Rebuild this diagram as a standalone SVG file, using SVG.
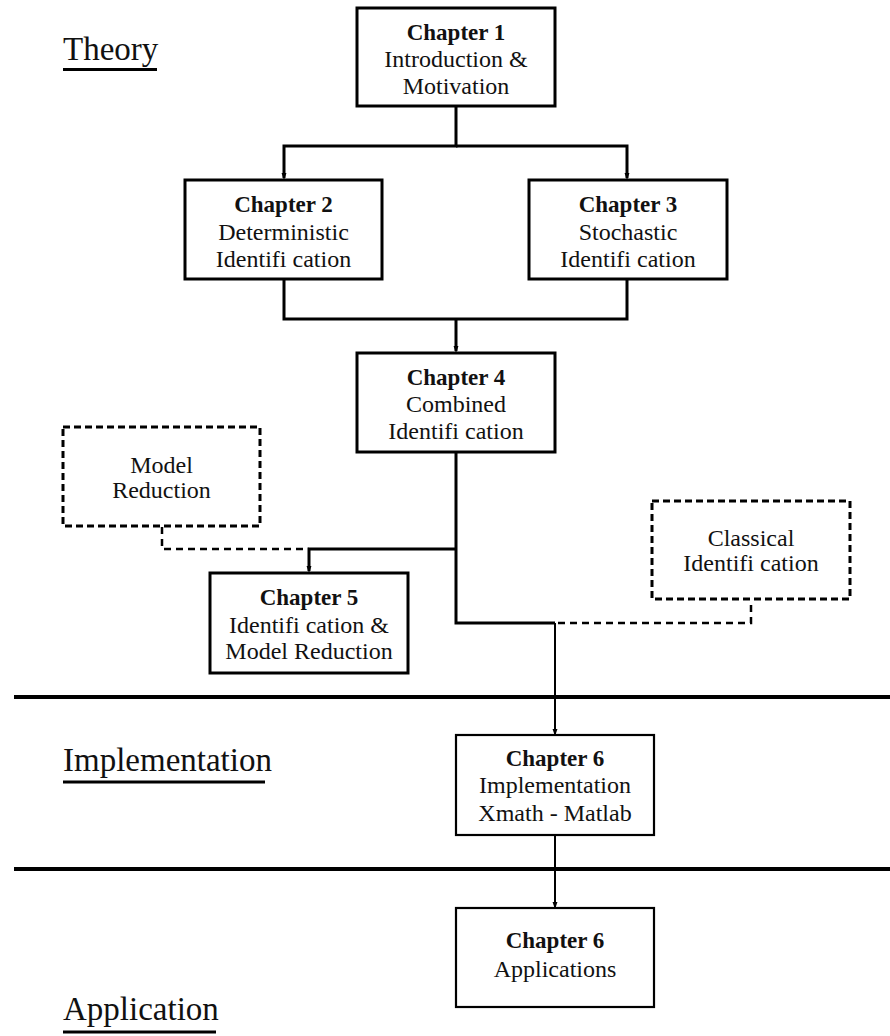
<svg xmlns="http://www.w3.org/2000/svg" width="890" height="1036" viewBox="0 0 890 1036">
  <style>
    text { font-family: "Liberation Serif", "Times New Roman", serif; fill: #111; }
    .title { font-weight: bold; font-size: 23px; text-anchor: middle; }
    .body { font-size: 24px; text-anchor: middle; }
    .section { font-size: 33px; }
    .box { fill: #fff; stroke: #000; stroke-width: 3; }
    .box-thin { fill: #fff; stroke: #000; stroke-width: 2.2; }
    .box-dash { fill: #fff; stroke: #000; stroke-width: 3; stroke-dasharray: 7 4; }
    .wire { fill: none; stroke: #000; stroke-width: 3; }
    .wire-thin { fill: none; stroke: #000; stroke-width: 2; }
    .wire-dash { fill: none; stroke: #000; stroke-width: 2.5; stroke-dasharray: 7 5; }
    .rule { stroke: #000; stroke-width: 4; }
  </style>
  <defs>
    <marker id="arrow" markerWidth="7" markerHeight="10" refX="7" refY="3.5" orient="auto" markerUnits="userSpaceOnUse" viewBox="0 0 10 7">
      <path d="M0,0 L10,3.5 L0,7 Z" fill="#000"/>
    </marker>
  </defs>

  <!-- section labels and dividers -->
  <g id="sections">
    <text class="section" x="63" y="60">Theory</text>
    <line x1="63" y1="69.5" x2="157" y2="69.5" stroke="#000" stroke-width="3"/>
    <text class="section" x="63" y="771">Implementation</text>
    <line x1="63" y1="782" x2="265" y2="782" stroke="#000" stroke-width="3"/>
    <text class="section" x="63" y="1020">Application</text>
    <line x1="63" y1="1032" x2="216" y2="1032" stroke="#000" stroke-width="3"/>
    <line class="rule" x1="14" y1="697" x2="890" y2="697"/>
    <line class="rule" x1="14" y1="869" x2="890" y2="869"/>
  </g>

  <!-- connectors -->
  <g id="connectors">
    <path class="wire" d="M456,106 V146 H284 V178" marker-end="url(#arrow)"/>
    <path class="wire" d="M456,146 H627 V178" marker-end="url(#arrow)"/>
    <path class="wire" d="M284,280 V319 H627 V280"/>
    <path class="wire" d="M456,319 V351" marker-end="url(#arrow)"/>
    <path class="wire" d="M456,452 V623 H555"/>
    <path class="wire" d="M456,549 H309 V571" marker-end="url(#arrow)"/>
    <path class="wire-dash" d="M162,527 V549 H309"/>
    <path class="wire-dash" d="M558,623 H751 V600"/>
    <path class="wire-thin" d="M555,623 V734" marker-end="url(#arrow)"/>
    <path class="wire-thin" d="M555,835 V907" marker-end="url(#arrow)"/>
  </g>

  <g id="ch1">
    <rect class="box" x="357" y="8" width="198" height="98"/>
    <text class="title" x="456" y="40">Chapter 1</text>
    <text class="body" x="456" y="67">Introduction &amp;</text>
    <text class="body" x="456" y="94">Motivation</text>
  </g>

  <g id="ch2">
    <rect class="box" x="185" y="180" width="197" height="99"/>
    <text class="title" x="283.5" y="212">Chapter 2</text>
    <text class="body" x="283.5" y="240">Deterministic</text>
    <text class="body" x="283.5" y="267">Identifi cation</text>
  </g>

  <g id="ch3">
    <rect class="box" x="529" y="180" width="198" height="99"/>
    <text class="title" x="628" y="212">Chapter 3</text>
    <text class="body" x="628" y="240">Stochastic</text>
    <text class="body" x="628" y="267">Identifi cation</text>
  </g>

  <g id="ch4">
    <rect class="box" x="357" y="353" width="198" height="99"/>
    <text class="title" x="456" y="385">Chapter 4</text>
    <text class="body" x="456" y="412">Combined</text>
    <text class="body" x="456" y="439">Identifi cation</text>
  </g>

  <g id="model-reduction">
    <rect class="box-dash" x="63" y="427" width="197" height="99"/>
    <text class="body" x="161.5" y="473">Model</text>
    <text class="body" x="161.5" y="498">Reduction</text>
  </g>

  <g id="classical">
    <rect class="box-dash" x="652" y="501" width="198" height="98"/>
    <text class="body" x="751" y="546">Classical</text>
    <text class="body" x="751" y="571">Identifi cation</text>
  </g>

  <g id="ch5">
    <rect class="box" x="210" y="573" width="198" height="100"/>
    <text class="title" x="309" y="605">Chapter 5</text>
    <text class="body" x="309" y="633">Identifi cation &amp;</text>
    <text class="body" x="309" y="659">Model Reduction</text>
  </g>

  <g id="ch6-implementation">
    <rect class="box-thin" x="456" y="735" width="198" height="100"/>
    <text class="title" x="555" y="766">Chapter 6</text>
    <text class="body" x="555" y="793">Implementation</text>
    <text class="body" x="555" y="821">Xmath - Matlab</text>
  </g>

  <g id="ch6-applications">
    <rect class="box-thin" x="456" y="908" width="198" height="99"/>
    <text class="title" x="555" y="948">Chapter 6</text>
    <text class="body" x="555" y="977">Applications</text>
  </g>
</svg>
